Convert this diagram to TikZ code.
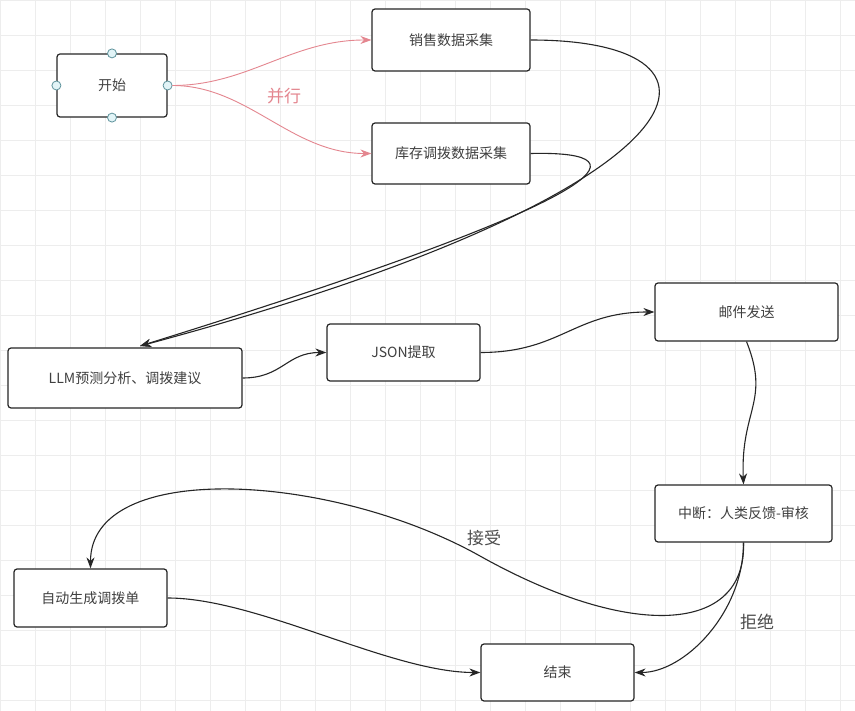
\documentclass[tikz,border=0pt]{standalone}
\usepackage{fontspec}
\setmainfont{Noto Sans CJK SC}
\usetikzlibrary{arrows.meta}
\definecolor{rose}{HTML}{E4868F}
\definecolor{contourpoignee}{HTML}{5E939C}
\definecolor{fondpoignee}{HTML}{E2F4F7}
\begin{document}
\begin{tikzpicture}[x=1pt,y=-1pt]
% définition des styles
\tikzstyle{boite}=[rectangle, draw=black!85, fill=white, line width=1.2pt, rounded corners=3pt, text=black!75, font=\fontsize{14}{16}\selectfont, inner sep=0pt]
\tikzstyle{lien}=[-{Stealth[length=11pt,width=8pt]}, line width=1.1pt, color=black!85]
\tikzstyle{lienrose}=[-{Stealth[length=11pt,width=8pt]}, line width=0.9pt, color=rose]
\tikzstyle{etiquette}=[font=\fontsize{17}{20}\selectfont, text=black!70]
\tikzstyle{poignee}=[circle, draw=contourpoignee, fill=fondpoignee, line width=0.8pt, inner sep=0pt, minimum size=9pt]

% le fond
\useasboundingbox (0,0) rectangle (855,711);
\fill[white] (0,0) rectangle (855,711);
\draw[step=35pt, black!7, line width=0.6pt] (0,0) grid (855,711);

% les boîtes
\node[boite, minimum width=110, minimum height=63] (debut) at (112,85.5) {开始};
\node[boite, minimum width=158, minimum height=62] (ventes) at (451,40) {销售数据采集};
\node[boite, minimum width=158, minimum height=61] (stock) at (451,153.5) {库存调拨数据采集};
\node[boite, minimum width=234, minimum height=60] (llm) at (125,378) {LLM预测分析、调拨建议};
\node[boite, minimum width=153, minimum height=57] (json) at (403.5,352.5) {JSON提取};
\node[boite, minimum width=183, minimum height=58] (mail) at (746.5,312) {邮件发送};
\node[boite, minimum width=177, minimum height=57] (revue) at (743.5,513.5) {中断：人类反馈-审核};
\node[boite, minimum width=153, minimum height=58] (auto) at (90.5,598) {自动生成调拨单};
\node[boite, minimum width=153, minimum height=57] (fin) at (557.5,672.5) {结束};
\foreach \a in {north,south,east,west}
  \node[poignee] (h-\a) at (debut.\a) {};
\coordinate (entree) at (140,346);
\coordinate (accepte) at (480,556);

% les flèches
\draw[lienrose] (h-east) .. controls +(80,0) and +(-80,0) .. (ventes.west);
\draw[lienrose] (h-east) .. controls +(80,0) and +(-80,0) .. (stock.west);
\node[etiquette, text=rose] (par) at (284,96) {并行};
\draw[lien] (ventes.east) .. controls +(225,0) and +(580,-156) .. (entree);
\draw[lien] (stock.east) .. controls +(125,-3) and +(470,-146) .. (entree);
\draw[lien] (llm.east) .. controls +(40,0) and +(-40,0) .. (json.west);
\draw[lien] (json.east) .. controls +(80,0) and +(-80,0) .. (mail.west);
\draw[lien] (mail.south) .. controls +(24,60) and +(-3,-75) .. (revue.north);
\draw[lien] (revue.south) .. controls +(3,92) and +(150,84) .. (accepte) .. controls +(-150,-84) and +(0,-109) .. (auto.north);
\node[etiquette] (oui) at (484,538) {接受};
\draw[lien] (revue.south) .. controls +(0,70) and +(50,0) .. (fin.east);
\node[etiquette] (non) at (757,622) {拒绝};
\draw[lien] (auto.east) .. controls +(90,0) and +(-90,0) .. (fin.west);
\end{tikzpicture}
\end{document}
